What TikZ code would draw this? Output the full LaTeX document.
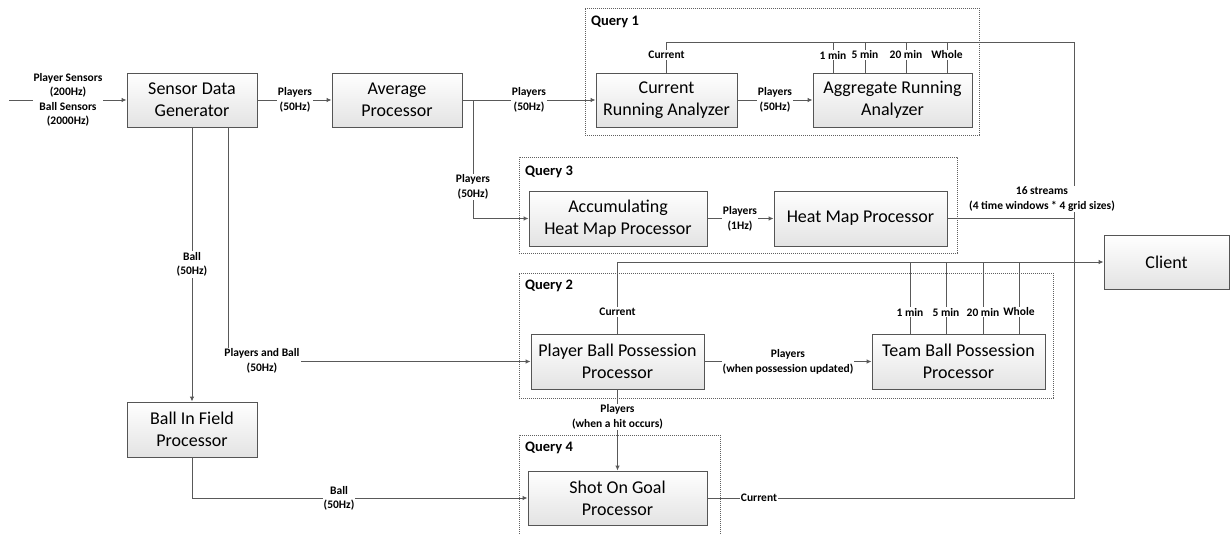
\documentclass[tikz,border=0pt]{standalone}
\usepackage{fontspec}
\setmainfont{Carlito}
\usetikzlibrary{arrows.meta,shadows}
\definecolor{ln}{RGB}{89,89,89}
\definecolor{bd}{RGB}{85,85,85}
\tikzset{
 box/.style={draw=bd, line width=0.9pt, top color=white, bottom color=gray!22, align=center,
   font=\fontsize{18}{22}\selectfont, inner sep=0pt,
   drop shadow={shadow xshift=1.2pt, shadow yshift=-1.2pt, opacity=0.25, fill=black}},
 query/.style={draw=gray!75!black, line width=0.7pt, dash pattern=on 1.2pt off 0.8pt, inner sep=0pt},
 qlabel/.style={font=\fontsize{14.5}{17}\selectfont\bfseries, anchor=west, inner sep=0pt},
 lbl/.style={font=\fontsize{11.5}{14.5}\selectfont\bfseries, align=center, fill=white, inner sep=1pt},
 conn/.style={draw=ln, line width=0.9pt},
 arr/.style={conn, -{Latex[length=5pt,width=4.5pt]}},
}
\begin{document}
\begin{tikzpicture}[x=1pt,y=-1pt]
\useasboundingbox (0,0) rectangle (1231,533);
\clip (0,0) rectangle (1231,533);
% query frames
\node[query, minimum width=394pt, minimum height=127pt] (q1) at (782,71.5) {};
\node[query, minimum width=438pt, minimum height=96pt] (q3) at (738,205) {};
\node[query, minimum width=534pt, minimum height=125pt] (q2) at (786,335.5) {};
\node[query, minimum width=201pt, minimum height=110pt] (q4) at (619.5,490) {};
\node[qlabel] (q1l) at (591,22) {Query 1};
\node[qlabel] (q3l) at (525,172) {Query 3};
\node[qlabel] (q2l) at (525,286) {Query 2};
\node[qlabel] (q4l) at (525,448) {Query 4};
% boxes
\node[box, minimum width=130pt, minimum height=54pt] (sdg) at (192,100) {Sensor Data\\Generator};
\node[box, minimum width=130pt, minimum height=54pt] (avg) at (397,100) {Average\\Processor};
\node[box, minimum width=141pt, minimum height=54pt] (cra) at (666.5,100) {Current\\Running Analyzer};
\node[box, minimum width=159pt, minimum height=54pt] (ara) at (892.5,100) {Aggregate Running\\Analyzer};
\node[box, minimum width=178pt, minimum height=55pt] (acc) at (618,218.5) {Accumulating\\Heat Map Processor};
\node[box, minimum width=173pt, minimum height=55pt] (hmp) at (860.5,218.5) {Heat Map Processor};
\node[box, minimum width=173pt, minimum height=55pt] (pbp) at (617.5,361.5) {Player Ball Possession\\Processor};
\node[box, minimum width=173pt, minimum height=55pt] (tbp) at (958.5,361.5) {Team Ball Possession\\Processor};
\node[box, minimum width=130pt, minimum height=55pt] (bif) at (192,429.5) {Ball In Field\\Processor};
\node[box, minimum width=179pt, minimum height=54pt] (sog) at (617.5,498) {Shot On Goal\\Processor};
\node[box, minimum width=125pt, minimum height=54pt] (client) at (1166.5,262) {Client};
% coordinates
\coordinate (in) at (9,100);
\coordinate (br) at (473,100);
\coordinate (top) at (1074,42);
% connectors
\draw[arr] (in) -- (sdg.west);
\draw[arr] (sdg.east) -- (avg.west);
\draw[arr] (avg.east) -- (cra.west);
\draw[arr] (br) |- (acc.west);
\draw[arr] (cra.east) -- (ara.west);
\draw[arr] (acc.east) -- (hmp.west);
\draw[arr] (sdg.south) -- (bif.north);
\draw[arr] (sdg.south -| 228,0) |- (pbp.west);
\draw[arr] (bif.south) |- (sog.west);
\draw[arr] (pbp.east) -- (tbp.west);
\draw[arr] (pbp.south) -- (sog.north);
\draw[conn] (cra.north) |- (top) -- (top |- sog.east) -- (sog.east);
\draw[conn] (hmp.east) -- (hmp.east -| top);
\draw[arr] (pbp.north) |- (client.west);
\foreach \x in {833,865,906,947} \draw[conn] (ara.north -| \x,0) -- (\x,42);
\foreach \x in {910,946,983,1019} \draw[conn] (tbp.north -| \x,0) -- (\x,262);
% labels
\node[lbl] (lin) at (68,100) {Player Sensors\\(200Hz)\\Ball Sensors\\(2000Hz)};
\node[lbl] (l1) at (295,100) {Players\\(50Hz)};
\node[lbl] (l2) at (529,100) {Players\\(50Hz)};
\node[lbl] (l3) at (775,100) {Players\\(50Hz)};
\node[lbl] (l4) at (473,187) {Players\\(50Hz)};
\node[lbl] (l5) at (740,219) {Players\\(1Hz)};
\node[lbl] (l6) at (192,264.5) {Ball\\(50Hz)};
\node[lbl] (l7) at (262,361) {Players and Ball\\(50Hz)};
\node[lbl] (l8) at (339,498.5) {Ball\\(50Hz)};
\node[lbl] (l9) at (788,362) {Players\\(when possession updated)};
\node[lbl] (l10) at (617.5,417) {Players\\(when a hit occurs)};
\node[lbl] (l11) at (759,498) {Current};
\node[lbl] (l12) at (1042,199) {16 streams\\(4 time windows * 4 grid sizes)};
\node[lbl] (l13) at (666.5,55) {Current};
\node[lbl] (l14) at (617.5,312) {Current};
\foreach \x/\t in {833/1 min,865/5 min,906/20 min,947/Whole} \node[lbl] at (\x,55) {\t};
\foreach \x/\t in {910/1 min,946/5 min,983/20 min,1019/Whole} \node[lbl] at (\x,312) {\t};
\end{tikzpicture}
\end{document}
